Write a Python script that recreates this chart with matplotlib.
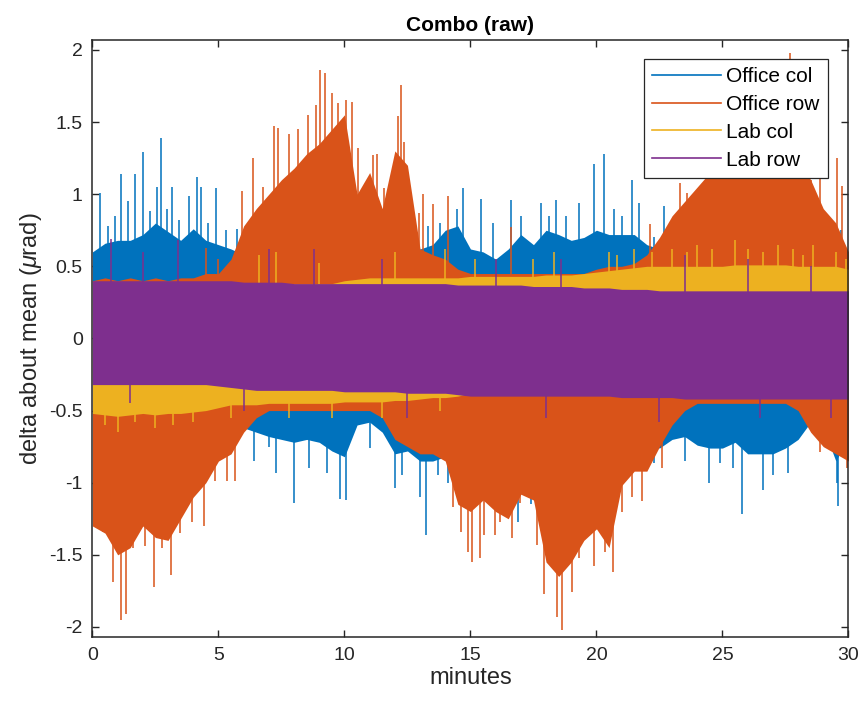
import numpy as np
import matplotlib
matplotlib.use('Agg')
import matplotlib.pyplot as plt
from matplotlib.lines import Line2D

matplotlib.rcParams['font.family'] = ['Liberation Sans', 'DejaVu Sans']
matplotlib.rcParams['mathtext.fontset'] = 'custom'
matplotlib.rcParams['mathtext.rm'] = 'Liberation Sans'
matplotlib.rcParams['mathtext.it'] = 'Liberation Sans:italic'
matplotlib.rcParams['axes.unicode_minus'] = False

# envelope of each trace, read every 0.5 minute
t = np.arange(0, 30.01, 0.5)

office_col_hi = [0.60, 0.66, 0.68, 0.68, 0.72, 0.80, 0.74, 0.68, 0.76, 0.68, 0.65, 0.62, 0.58,
                 0.55, 0.55, 0.55, 0.55, 0.55, 0.55, 0.55, 0.55, 0.55, 0.55, 0.55, 0.58, 0.65,
                 0.62, 0.65, 0.75, 0.78, 0.62, 0.60, 0.55, 0.62, 0.72, 0.65, 0.75, 0.72, 0.68,
                 0.70, 0.75, 0.72, 0.72, 0.72, 0.65, 0.62, 0.62, 0.58, 0.58, 0.58, 0.58, 0.58,
                 0.58, 0.58, 0.58, 0.58, 0.58, 0.58, 0.66, 0.68, 0.58]
office_col_lo = [-0.50, -0.50, -0.50, -0.50, -0.50, -0.50, -0.50, -0.50, -0.50, -0.50, -0.50, -0.55,
                 -0.62, -0.65, -0.68, -0.70, -0.72, -0.70, -0.72, -0.78, -0.82, -0.60, -0.58, -0.65,
                 -0.80, -0.78, -0.85, -0.85, -0.82, -0.85, -0.95, -0.95, -1.05, -1.05, -1.00, -0.88,
                 -0.85, -0.78, -0.78, -0.78, -0.78, -0.72, -0.70, -0.68, -0.72, -0.76, -0.70, -0.68,
                 -0.74, -0.76, -0.76, -0.72, -0.80, -0.80, -0.80, -0.76, -0.70, -0.58, -0.62, -0.85,
                 -0.68]
office_row_hi = [0.40, 0.42, 0.40, 0.42, 0.40, 0.42, 0.40, 0.42, 0.42, 0.45, 0.45, 0.55, 0.78,
                 0.90, 1.00, 1.10, 1.18, 1.28, 1.35, 1.45, 1.55, 1.00, 1.15, 0.90, 1.30, 1.20,
                 0.62, 0.58, 0.55, 0.48, 0.45, 0.45, 0.45, 0.45, 0.45, 0.45, 0.45, 0.45, 0.45,
                 0.45, 0.48, 0.50, 0.50, 0.52, 0.58, 0.70, 0.85, 0.95, 1.05, 1.15, 1.20, 1.25,
                 1.30, 1.30, 1.35, 1.30, 1.25, 1.10, 0.90, 0.80, 0.60]
office_row_lo = [-1.30, -1.35, -1.50, -1.45, -1.30, -1.38, -1.40, -1.25, -1.10, -1.00, -0.85, -0.80,
                 -0.65, -0.55, -0.50, -0.50, -0.50, -0.50, -0.50, -0.50, -0.50, -0.50, -0.50, -0.55,
                 -0.70, -0.75, -0.80, -0.80, -0.85, -1.15, -1.20, -1.12, -1.20, -1.25, -1.08, -1.12,
                 -1.55, -1.65, -1.55, -1.40, -1.32, -1.45, -1.02, -0.92, -0.92, -0.75, -0.60, -0.50,
                 -0.45, -0.45, -0.45, -0.45, -0.45, -0.45, -0.45, -0.45, -0.50, -0.65, -0.75, -0.80,
                 -0.85]
lab_col_hi = [0.38, 0.38, 0.38, 0.38, 0.38, 0.38, 0.38, 0.38, 0.38, 0.38, 0.38, 0.38, 0.38,
              0.38, 0.38, 0.38, 0.38, 0.38, 0.38, 0.38, 0.40, 0.41, 0.42, 0.42, 0.42, 0.42,
              0.42, 0.42, 0.42, 0.42, 0.43, 0.43, 0.43, 0.43, 0.43, 0.43, 0.44, 0.44, 0.44,
              0.45, 0.46, 0.47, 0.48, 0.49, 0.50, 0.50, 0.50, 0.50, 0.50, 0.50, 0.50, 0.51,
              0.51, 0.51, 0.51, 0.51, 0.50, 0.50, 0.50, 0.50, 0.48]
lab_col_lo = [-0.52, -0.53, -0.54, -0.53, -0.52, -0.53, -0.52, -0.52, -0.51, -0.50, -0.48, -0.46,
              -0.46, -0.46, -0.45, -0.45, -0.45, -0.45, -0.45, -0.45, -0.44, -0.44, -0.44, -0.44,
              -0.43, -0.43, -0.42, -0.41, -0.41, -0.40, -0.38, -0.38, -0.38, -0.38, -0.38, -0.38,
              -0.38, -0.38, -0.38, -0.38, -0.38, -0.38, -0.38, -0.38, -0.38, -0.38, -0.38, -0.38,
              -0.38, -0.38, -0.38, -0.38, -0.38, -0.38, -0.38, -0.38, -0.38, -0.38, -0.38, -0.38,
              -0.38]
lab_row_hi = [0.40, 0.40, 0.40, 0.40, 0.40, 0.40, 0.40, 0.40, 0.40, 0.40, 0.40, 0.40, 0.39,
              0.39, 0.39, 0.39, 0.38, 0.38, 0.38, 0.38, 0.38, 0.38, 0.38, 0.38, 0.38, 0.38,
              0.38, 0.38, 0.38, 0.37, 0.37, 0.37, 0.37, 0.37, 0.37, 0.36, 0.36, 0.36, 0.36,
              0.35, 0.35, 0.35, 0.34, 0.34, 0.34, 0.33, 0.33, 0.33, 0.33, 0.33, 0.33, 0.33,
              0.33, 0.33, 0.33, 0.33, 0.33, 0.33, 0.33, 0.33, 0.33]
lab_row_lo = [-0.32, -0.32, -0.32, -0.32, -0.32, -0.32, -0.32, -0.32, -0.32, -0.32, -0.33, -0.34,
              -0.35, -0.36, -0.36, -0.36, -0.36, -0.36, -0.36, -0.36, -0.37, -0.37, -0.37, -0.37,
              -0.37, -0.38, -0.38, -0.38, -0.38, -0.39, -0.40, -0.40, -0.40, -0.40, -0.40, -0.40,
              -0.40, -0.40, -0.40, -0.40, -0.40, -0.40, -0.41, -0.41, -0.41, -0.41, -0.41, -0.42,
              -0.42, -0.42, -0.42, -0.42, -0.42, -0.42, -0.42, -0.42, -0.42, -0.42, -0.42, -0.42,
              -0.42]

# single-sample spikes (minute, value) standing out of each envelope
office_col_spikes = [(0.30, 1.01), (0.6, 0.78), (0.9, 0.85), (1.12, 1.14), (1.4, 0.95), (1.69, 1.14),
                     (1.99, 1.29), (2.3, 0.88), (2.55, 1.05), (2.71, 1.39), (2.95, 0.9), (3.14, 1.05),
                     (3.45, 0.82), (3.84, 0.99), (4.13, 1.12), (4.29, 1.05), (4.6, 0.8), (4.89, 1.04),
                     (5.3, 0.75), (5.72, 0.76), (12.7, 0.9), (13.3, 0.78), (13.8, 0.8), (14.45, 0.9),
                     (14.7, 1.04), (15.4, 0.97), (15.9, 0.8), (16.6, 0.96), (17.0, 0.85), (17.8, 0.94),
                     (18.1, 0.85), (18.4, 0.96), (18.8, 0.85), (19.3, 0.94), (19.9, 1.21), (20.3, 1.28),
                     (20.7, 0.9), (21.0, 0.85), (21.4, 1.1), (21.7, 0.94), (22.3, 0.7), (22.7, 0.92),
                     (29.3, 0.8), (29.7, 0.75),
                     (5.8, -0.65), (6.4, -0.85), (7.0, -0.75), (7.3, -0.93), (8.0, -1.14), (8.6, -0.9),
                     (9.3, -0.93), (9.83, -1.11), (10.05, -1.12), (11.0, -0.76), (12.0, -1.04),
                     (12.3, -0.95), (13.0, -1.1), (13.24, -1.36), (13.7, -0.95), (14.1, -1.0),
                     (16.9, -1.27), (17.4, -1.15), (22.3, -0.86), (23.5, -0.85), (24.47, -1.0),
                     (24.9, -0.86), (25.4, -0.9), (25.77, -1.22), (26.6, -1.05), (27.0, -0.95),
                     (27.6, -0.93), (29.54, -1.0), (29.6, -1.16)]
office_row_spikes = [(4.5, 0.63), (5.0, 0.55), (5.92, 1.02), (6.38, 1.25), (6.78, 1.05), (7.22, 1.47),
                     (7.35, 1.46), (7.81, 1.42), (8.17, 1.45), (8.57, 1.55), (8.87, 1.62), (9.03, 1.86),
                     (9.23, 1.84), (9.52, 1.70), (9.76, 1.63), (10.06, 1.65), (10.29, 1.64), (10.55, 1.32),
                     (11.12, 1.27), (11.28, 1.28), (11.55, 1.04), (11.88, 1.05), (12.14, 1.54),
                     (12.23, 1.76), (12.37, 1.36), (12.54, 1.12), (12.97, 0.87), (13.13, 1.0),
                     (13.5, 0.93), (14.1, 0.99), (16.6, 0.77), (22.13, 0.79), (23.32, 1.08),
                     (23.59, 1.01), (27.69, 1.98), (28.5, 1.1), (28.88, 1.12), (29.54, 1.25),
                     (29.74, 1.06),
                     (0.43, -1.34), (0.83, -1.69), (1.12, -1.95), (1.32, -1.91), (1.62, -1.45),
                     (2.08, -1.44), (2.45, -1.72), (2.75, -1.45), (3.1, -1.64), (3.47, -1.35),
                     (3.94, -1.27), (4.43, -1.3), (4.86, -0.99), (5.33, -0.99), (5.66, -0.99),
                     (14.32, -1.17), (14.62, -1.34), (14.92, -1.48), (15.05, -1.55), (15.38, -1.52),
                     (15.54, -1.36), (15.98, -1.36), (16.18, -1.27), (16.64, -1.38), (16.97, -1.14),
                     (17.63, -1.43), (17.92, -1.77), (18.16, -1.55), (18.45, -1.93), (18.63, -2.02),
                     (19.02, -1.76), (19.29, -1.52), (19.91, -1.58), (20.12, -1.33), (20.35, -1.48),
                     (20.67, -1.62), (21.0, -1.2), (21.4, -1.1), (21.8, -1.13), (22.6, -0.9),
                     (28.88, -0.79), (29.28, -0.75), (29.94, -0.9)]
lab_col_spikes = [(6.6, 0.58), (7.3, 0.6), (9.0, 0.52), (12.0, 0.6), (14.0, 0.62), (15.2, 0.55),
                  (17.5, 0.55), (18.3, 0.6), (20.5, 0.6), (20.8, 0.58), (21.5, 0.62), (22.2, 0.6),
                  (23.0, 0.62), (23.6, 0.6), (24.0, 0.65), (24.6, 0.62), (25.5, 0.68), (26.0, 0.62),
                  (26.6, 0.6), (27.2, 0.65), (27.8, 0.62), (28.2, 0.58), (28.6, 0.65), (29.5, 0.6),
                  (29.9, 0.55),
                  (0.5, -0.6), (1.0, -0.65), (1.7, -0.58), (2.5, -0.62), (3.2, -0.6), (4.0, -0.58),
                  (5.5, -0.55), (7.8, -0.55), (9.5, -0.55), (11.5, -0.55), (13.8, -0.5)]
lab_row_spikes = [(0.72, 0.69), (2.0, 0.6), (3.4, 0.68), (7.0, 0.62), (8.8, 0.62), (11.5, 0.55),
                  (16.0, 0.55), (18.6, 0.55), (23.5, 0.58), (26.0, 0.55), (28.5, 0.5),
                  (1.5, -0.45), (6.0, -0.5), (12.5, -0.55), (18.0, -0.55), (22.5, -0.58),
                  (26.5, -0.55), (29.3, -0.55)]

names = ['Office col', 'Office row', 'Lab col', 'Lab row']
colors = ['#0072BD', '#D95319', '#EDB120', '#7E2F8E']
his = [office_col_hi, office_row_hi, lab_col_hi, lab_row_hi]
los = [office_col_lo, office_row_lo, lab_col_lo, lab_row_lo]
spikes = [office_col_spikes, office_row_spikes, lab_col_spikes, lab_row_spikes]

fig = plt.figure(figsize=(8.64, 7.11), dpi=100)
ax = fig.add_axes([0.107, 0.104, 0.875, 0.840])

for i in range(4):
    z = 2 + i
    ax.fill_between(t, los[i], his[i], color=colors[i], lw=0, zorder=z)
    st = np.array([s[0] for s in spikes[i]])
    sv = np.array([s[1] for s in spikes[i]])
    ax.vlines(st, 0, sv, color=colors[i], lw=1.1, zorder=z)

ax.set_xlim(0, 30)
ax.set_ylim(-2.07, 2.07)
ax.set_xticks([0, 5, 10, 15, 20, 25, 30])
ax.set_yticks([-2, -1.5, -1, -0.5, 0, 0.5, 1, 1.5, 2])
ax.set_yticklabels(['-2', '-1.5', '-1', '-0.5', '0', '0.5', '1', '1.5', '2'])
ax.tick_params(direction='in', length=5, width=1, top=True, right=True,
               labelsize=14, colors='#262626', pad=7)
for sp in ax.spines.values():
    sp.set_linewidth(1.1)
    sp.set_color('#262626')
    sp.set_zorder(10)

ax.set_title('Combo (raw)', fontsize=15, fontweight='bold', pad=6)
ax.set_xlabel('minutes', fontsize=17, color='#262626', labelpad=2)
ax.set_ylabel(r'delta about mean ($\mu$rad)', fontsize=17, color='#262626', labelpad=4)

handles = [Line2D([], [], color=c, lw=1.2) for c in colors]
leg = ax.legend(handles, names, loc='upper right', bbox_to_anchor=(0.973, 0.968),
                borderaxespad=0, fontsize=15, handlelength=3.3, fancybox=False,
                framealpha=1, edgecolor='#262626', borderpad=0.4, labelspacing=0.42,
                handletextpad=0.25)
leg.get_frame().set_linewidth(0.9)
leg.set_zorder(20)

fig.savefig('out.png', dpi=100)
